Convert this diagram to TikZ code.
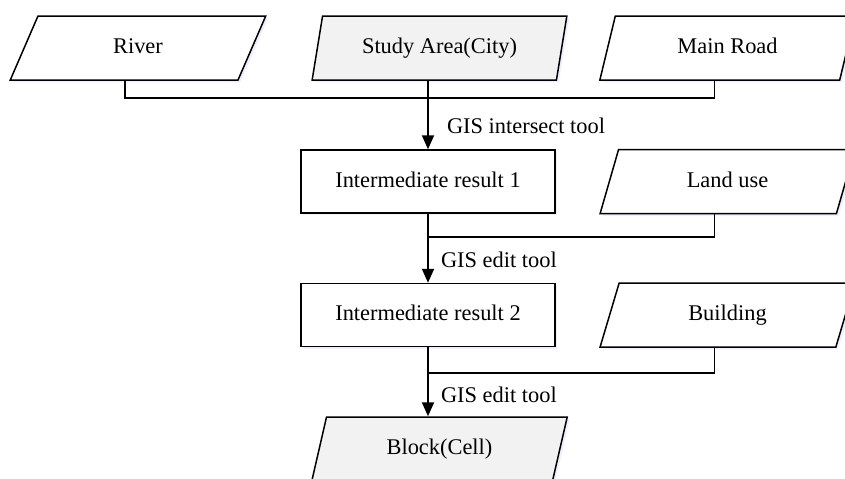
\documentclass[tikz,border=0pt]{standalone}
\usepackage{fontspec}
\setmainfont{Liberation Serif}
\usetikzlibrary{shapes.geometric,arrows.meta,calc,shadows}
\begin{document}
\begin{tikzpicture}[x=0.5pt,y=-0.5pt,
  every node/.style={font=\fontsize{11.2}{13}\selectfont},
  shad/.style={drop shadow={shadow xshift=1.2pt,shadow yshift=-1.2pt,fill=blue!25,opacity=0.25}},
  para/.style={draw,line width=0.75pt,trapezium,trapezium left angle=67.9,trapezium right angle=112.1,
    trapezium stretches=true,minimum width=128pt,minimum height=32pt,inner sep=0pt,shad,fill=white,
    text height=1.55ex,text depth=0.3ex},
  grayfill/.style={fill=black!5},
  boxx/.style={draw,line width=0.75pt,rectangle,minimum width=127pt,minimum height=31.5pt,inner sep=0pt,shad,fill=white,
    text height=1.55ex,text depth=0.3ex},
  conn/.style={line width=0.75pt},
  arr/.style={line width=1pt,-{Triangle[length=7pt,width=6pt]}},
  lab/.style={anchor=west,inner sep=0pt}]
\useasboundingbox (0,0) rectangle (845,478);
\node[para] (river) at (138,48) {River};
\node[para,grayfill] (study) at (439.5,48) {Study Area(City)};
\node[para] (road) at (727.5,48) {Main Road};
\node[boxx] (ir1) at (428,181.5) {Intermediate result 1};
\node[para] (land) at (727.5,181.5) {Land use};
\node[boxx] (ir2) at (428,315) {Intermediate result 2};
\node[para] (bldg) at (727.5,315) {Building};
\node[para,grayfill] (block) at (439.5,449) {Block(Cell)};
\coordinate (rb) at (125,80);
\coordinate (sb) at (ir1.north |- study.south);
\coordinate (mb) at (714.5,80);
\coordinate (lb) at (714.5,213);
\coordinate (bb) at (714.5,347);
\coordinate (bt) at (ir2.south |- block.north);
\coordinate (j1) at (ir1.north |- 0,98);
\coordinate (j2) at (ir1.south |- 0,237);
\coordinate (j3) at (ir2.south |- 0,373);
\draw[conn] (rb) |- (j1);
\draw[conn] (mb) |- (j1);
\draw[conn] (sb) -- (j1);
\draw[arr] (j1) -- node[lab,pos=0.55,xshift=9pt]{GIS intersect tool} (ir1.north);
\draw[conn] (ir1.south) -- (j2);
\draw[conn] (lb) |- (j2);
\draw[arr] (j2) -- node[lab,pos=0.5,xshift=6pt]{GIS edit tool} (ir2.north);
\draw[conn] (ir2.south) -- (j3);
\draw[conn] (bb) |- (j3);
\draw[arr] (j3) -- node[lab,pos=0.5,xshift=6pt]{GIS edit tool} (bt);
\end{tikzpicture}
\end{document}
